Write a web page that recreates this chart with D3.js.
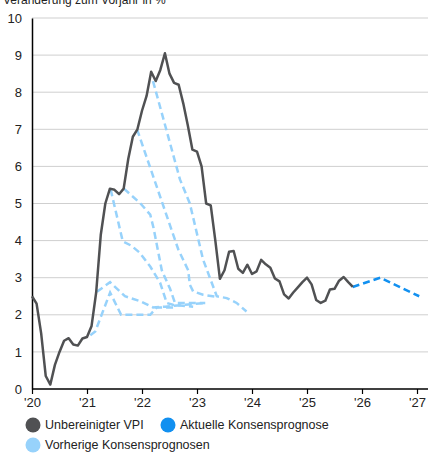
<!DOCTYPE html>
<html>
<head>
<meta charset="utf-8">
<script src="https://cdn.jsdelivr.net/npm/d3@7"></script>
<style>
  body { margin: 0; background: #fff; }
  svg { font-family: "Liberation Sans", Arial, sans-serif; display: block; }
</style>
</head>
<body>
<svg id="chart" width="428" height="453"></svg>
<script>
// Unbereinigter VPI, monatlich ab Jan 2020 (Veränderung zum Vorjahr in %)
const vpiStart = 2020;
const vpi = [
  2.5, 2.3, 1.5, 0.35, 0.12, 0.65, 1.0, 1.3, 1.37, 1.2, 1.17, 1.36,
  1.4, 1.7, 2.6, 4.15, 5.0, 5.4, 5.37, 5.25, 5.4, 6.2, 6.8, 7.0,
  7.5, 7.9, 8.55, 8.3, 8.6, 9.05, 8.5, 8.25, 8.2, 7.7, 7.1, 6.45,
  6.4, 6.0, 5.0, 4.95, 4.0, 2.97, 3.2, 3.7, 3.72, 3.24, 3.13, 3.35,
  3.1, 3.17, 3.48, 3.36, 3.27, 2.98, 2.9, 2.55, 2.44, 2.6, 2.74, 2.88,
  3.0, 2.82, 2.4, 2.32, 2.38, 2.68, 2.7, 2.92, 3.02, 2.88, 2.75
];

// Aktuelle Konsensprognose [Jahr, Wert]
const currentForecast = [[2025.83, 2.75], [2026.33, 3.0], [2027.04, 2.5]];

// Vorherige Konsensprognosen [Jahr, Wert]
const prevForecast1 = [[2021.06, 1.45], [2021.15, 1.55], [2021.42, 2.6], [2021.62, 2.0], [2022.15, 2.0], [2022.27, 2.2], [2022.62, 2.2]];
const prevForecast2 = [[2021.18, 2.62], [2021.42, 2.88], [2021.69, 2.5], [2021.96, 2.37], [2022.2, 2.2], [2022.42, 2.22], [2023.15, 2.32]];
const prevForecast3 = [[2021.43, 5.38], [2021.65, 3.98], [2021.81, 3.86], [2021.96, 3.67], [2022.15, 3.3], [2022.33, 2.86], [2022.45, 2.32], [2022.56, 2.27], [2022.93, 2.22]];
const prevForecast4 = [[2021.67, 5.4], [2021.96, 5.02], [2022.15, 4.7], [2022.21, 4.34], [2022.36, 3.2], [2022.51, 2.7], [2022.6, 2.32], [2023.15, 2.32]];
const prevForecast5 = [[2021.91, 7.0], [2022.66, 3.76], [2022.84, 3.2], [2022.87, 2.81], [2022.93, 2.63], [2023.11, 2.54], [2023.33, 2.49]];
const prevForecast6 = [[2022.2, 8.3], [2022.69, 5.65], [2022.87, 5.0], [2023.11, 3.49], [2023.36, 2.5], [2023.54, 2.45], [2023.72, 2.32], [2023.9, 2.09]];
const prevForecasts = [prevForecast1, prevForecast2, prevForecast3, prevForecast4, prevForecast5, prevForecast6];

const yTicks = [0, 1, 2, 3, 4, 5, 6, 7, 8, 9, 10];
const xTicks = [2020, 2021, 2022, 2023, 2024, 2025, 2026, 2027];

const legendItems = [
  { label: "Unbereinigter VPI", color: "#505153" },
  { label: "Aktuelle Konsensprognose", color: "#1290f0" },
  { label: "Vorherige Konsensprognosen", color: "#97d2fb" }
];

const svg = d3.select("#chart");
const margin = { left: 32, right: 0, top: 18 };

const x = d3.scaleLinear().domain([2020, 2027]).range([32, 417]);
const y = d3.scaleLinear().domain([0, 10]).range([389, 18]);

// Titel (oben abgeschnitten)
svg.append("text")
  .attr("x", 3)
  .attr("y", 4)
  .attr("font-size", 12)
  .attr("fill", "#222")
  .text("Veränderung zum Vorjahr in %");

// Gitterlinien
svg.append("g")
  .selectAll("line")
  .data(yTicks.filter(d => d > 0))
  .enter()
  .append("line")
  .attr("x1", 32)
  .attr("x2", 428)
  .attr("y1", d => y(d))
  .attr("y2", d => y(d))
  .attr("stroke", "#cfcfcf")
  .attr("stroke-width", 1);

// y-Achse
const yAxis = svg.append("g")
  .attr("transform", "translate(32,0)")
  .call(d3.axisLeft(y).tickValues(yTicks).tickSize(0).tickPadding(10));
yAxis.select(".domain").attr("stroke", "#000").attr("stroke-width", 1.5);
yAxis.selectAll("text").attr("font-size", 13).attr("fill", "#222")
  .attr("font-family", "Liberation Sans, Arial, sans-serif");

const line = d3.line().x(d => x(d[0])).y(d => y(d[1]));

// vorherige Prognosen
svg.append("g")
  .selectAll("path")
  .data(prevForecasts)
  .enter()
  .append("path")
  .attr("d", line)
  .attr("fill", "none")
  .attr("stroke", "#97d2fb")
  .attr("stroke-width", 2.5)
  .attr("stroke-dasharray", "7,4");

// aktuelle Prognose
svg.append("path")
  .datum(currentForecast)
  .attr("d", line)
  .attr("fill", "none")
  .attr("stroke", "#1290f0")
  .attr("stroke-width", 2.5)
  .attr("stroke-dasharray", "7,4");

// VPI
svg.append("path")
  .datum(vpi.map((v, i) => [vpiStart + i / 12, v]))
  .attr("d", line)
  .attr("fill", "none")
  .attr("stroke", "#505153")
  .attr("stroke-width", 2.5)
  .attr("stroke-linejoin", "round");

// x-Achse
const xAxis = svg.append("g")
  .attr("transform", "translate(0,389)")
  .call(d3.axisBottom(x).tickValues(xTicks).tickSize(5).tickPadding(4)
    .tickFormat(d => "'" + String(d).slice(2)));
xAxis.select(".domain").attr("d", "M32,0H428").attr("stroke", "#000").attr("stroke-width", 1.5);
xAxis.selectAll(".tick line").attr("stroke", "#000").attr("stroke-width", 1.2);
xAxis.selectAll("text").attr("font-size", 13).attr("fill", "#222")
  .attr("font-family", "Liberation Sans, Arial, sans-serif");

// Legende
const legendPos = [[33, 425], [168, 425], [33, 445]];
const legend = svg.append("g")
  .selectAll("g")
  .data(legendItems)
  .enter()
  .append("g")
  .attr("transform", (d, i) => `translate(${legendPos[i][0]},${legendPos[i][1]})`);
legend.append("circle").attr("r", 7.5).attr("fill", d => d.color);
legend.append("text")
  .attr("x", 12)
  .attr("dy", "0.35em")
  .attr("font-size", 12.5)
  .attr("fill", "#222")
  .text(d => d.label);
</script>
</body>
</html>
